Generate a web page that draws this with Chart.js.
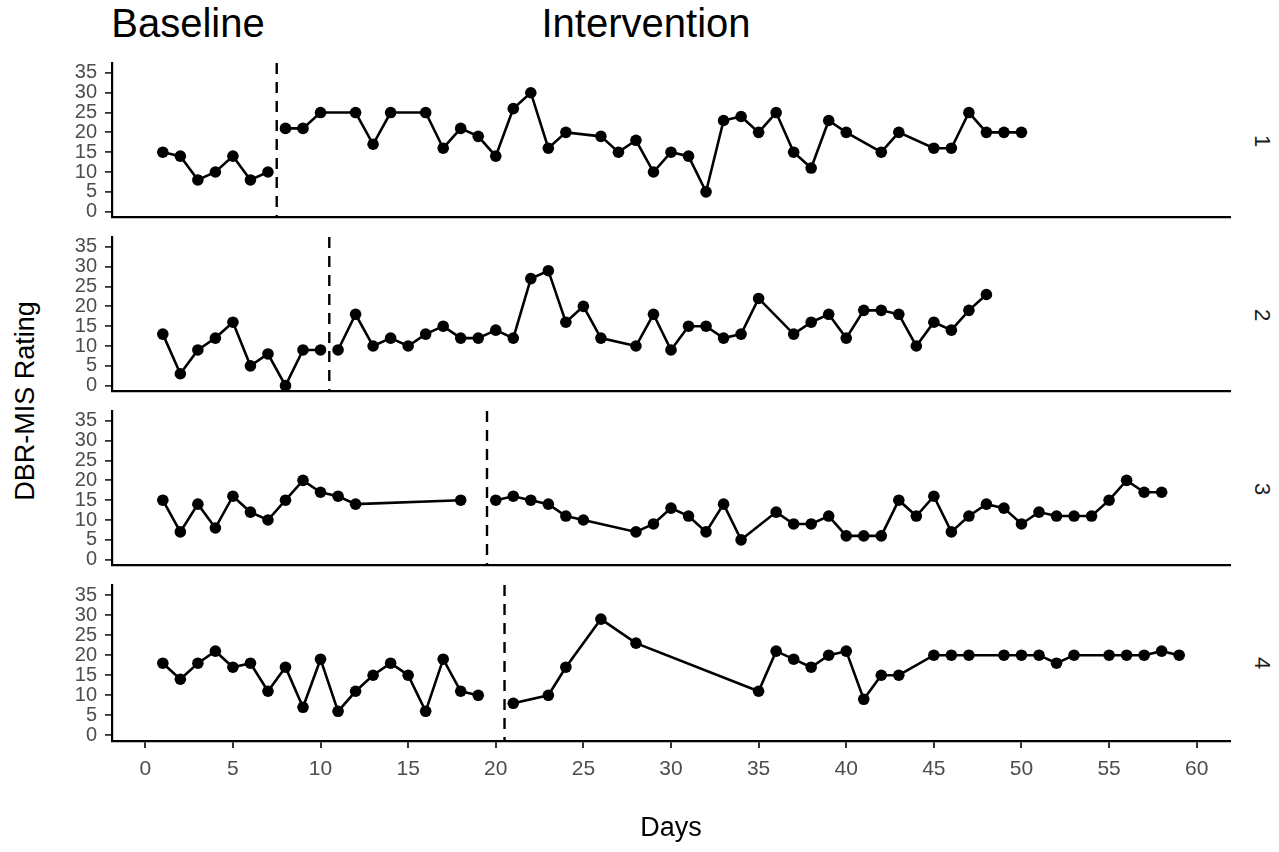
<!DOCTYPE html>
<html><head><meta charset="utf-8">
<script src="https://cdn.jsdelivr.net/npm/chart.js@4.4.1/dist/chart.umd.min.js"></script>
<style>
html,body{margin:0;padding:0;background:#fff;width:1279px;height:852px;overflow:hidden;font-family:"Liberation Sans",Arial,sans-serif;}
canvas{position:absolute;left:0;}
.t{position:absolute;white-space:nowrap;transform:translate(-50%,-50%);color:#000;line-height:1;}
</style></head><body>
<div class="t" style="left:188px;top:23px;font-size:40px">Baseline</div>
<div class="t" style="left:646px;top:23px;font-size:40px">Intervention</div>
<div class="t" style="left:25px;top:401px;font-size:27px;transform:translate(-50%,-50%) rotate(-90deg)">DBR-MIS Rating</div>
<div id="strips"></div>
<script>
// ---------- data ----------
const xTicks = [0,5,10,15,20,25,30,35,40,45,50,55,60];
const yTicks = [0,5,10,15,20,25,30,35];
const stripLabels = ['1','2','3','4'];
const phaseChanges = [7.5, 10.5, 19.5, 20.5];
const xTitle = 'Days';

const p1BaseDays = [1,2,3,4,5,6,7];
const p1Base     = [15,14,8,10,14,8,10];
const p1IntDays  = [8,9,10,12,13,14,16,17,18,19,20,21,22,23,24,26,27,28,29,30,31,32,33,34,35,36,37,38,39,40,42,43,45,46,47,48,49,50];
const p1Int      = [21,21,25,25,17,25,25,16,21,19,14,26,30,16,20,19,15,18,10,15,14,5,23,24,20,25,15,11,23,20,15,20,16,16,25,20,20,20];

const p2BaseDays = [1,2,3,4,5,6,7,8,9,10];
const p2Base     = [13,3,9,12,16,5,8,0,9,9];
const p2IntDays  = [11,12,13,14,15,16,17,18,19,20,21,22,23,24,25,26,28,29,30,31,32,33,34,35,37,38,39,40,41,42,43,44,45,46,47,48];
const p2Int      = [9,18,10,12,10,13,15,12,12,14,12,27,29,16,20,12,10,18,9,15,15,12,13,22,13,16,18,12,19,19,18,10,16,14,19,23];

const p3BaseDays = [1,2,3,4,5,6,7,8,9,10,11,12,18];
const p3Base     = [15,7,14,8,16,12,10,15,20,17,16,14,15];
const p3IntDays  = [20,21,22,23,24,25,28,29,30,31,32,33,34,36,37,38,39,40,41,42,43,44,45,46,47,48,49,50,51,52,53,54,55,56,57,58];
const p3Int      = [15,16,15,14,11,10,7,9,13,11,7,14,5,12,9,9,11,6,6,6,15,11,16,7,11,14,13,9,12,11,11,11,15,20,17,17];

const p4BaseDays = [1,2,3,4,5,6,7,8,9,10,11,12,13,14,15,16,17,18,19];
const p4Base     = [18,14,18,21,17,18,11,17,7,19,6,11,15,18,15,6,19,11,10];
const p4IntDays  = [21,23,24,26,28,35,36,37,38,39,40,41,42,43,45,46,47,49,50,51,52,53,55,56,57,58,59];
const p4Int      = [8,10,17,29,23,11,21,19,17,20,21,9,15,15,20,20,20,20,20,20,18,20,20,20,20,21,20];

// ---------- layout ----------
const X_MIN = -1.9, X_MAX = 61.9, Y_MIN = -1.4, Y_MAX = 37.5;
const panelTops = [63, 237, 411, 585];
const PLOT_H = 156, PAD_TOP = 12, LEFT_W = 112, RIGHT_PAD = 49, W = 1279, H = 852;
const FONT = '"Liberation Sans", Arial, sans-serif';

const panels = [
  [p1BaseDays, p1Base, p1IntDays, p1Int],
  [p2BaseDays, p2Base, p2IntDays, p2Int],
  [p3BaseDays, p3Base, p3IntDays, p3Int],
  [p4BaseDays, p4Base, p4IntDays, p4Int]
];
const zip = (xs, ys) => xs.map((x, i) => ({x: x, y: ys[i]}));
const lineStyle = {borderColor:'#000', borderWidth:2.6, pointRadius:5.8, pointBorderWidth:0,
  pointBackgroundColor:'#000', pointHoverRadius:5.8, fill:false, tension:0};
const noPad = s => { s.paddingTop = 0; s.paddingBottom = 0; s.paddingLeft = 0; s.paddingRight = 0; };

panels.forEach((p, i) => {
  const last = i === panels.length - 1;
  const top = panelTops[i] - PAD_TOP;
  const height = last ? H - top : PAD_TOP + PLOT_H + 4;
  const cv = document.createElement('canvas');
  cv.width = W; cv.height = height;
  cv.style.top = top + 'px';
  document.body.appendChild(cv);

  new Chart(cv, {
    type: 'line',
    data: { datasets: [
      Object.assign({data: zip(p[0], p[1])}, lineStyle),
      Object.assign({data: zip(p[2], p[3])}, lineStyle),
      {data: [{x: phaseChanges[i], y: Y_MAX}, {x: phaseChanges[i], y: Y_MIN}],
       borderColor:'#000', borderWidth:2.4, borderDash:[11,8], pointRadius:0, fill:false}
    ]},
    options: {
      responsive:false, animation:false, devicePixelRatio:1,
      layout:{padding:{top:PAD_TOP, right:RIGHT_PAD, left:0, bottom:0}},
      plugins:{legend:{display:false}, tooltip:{enabled:false}},
      events: [],
      scales: {
        x: {
          type:'linear', min:X_MIN, max:X_MAX,
          afterBuildTicks: s => { s.ticks = xTicks.map(v => ({value:v})); },
          afterFit: s => { s.height = last ? height - PAD_TOP - PLOT_H : 4; noPad(s); },
          ticks:{display:last, autoSkip:false, maxRotation:0, color:'#4D4D4D', padding:9,
                 font:{family:FONT, size:21}},
          grid:{display:last, drawOnChartArea:false, drawTicks:true, tickLength:7, color:'#333', lineWidth:2},
          border:{display:true, color:'#000', width:2.2},
          title:{display:last, text:xTitle, color:'#000', font:{family:FONT, size:27},
                 padding:{top:0, bottom:7}}
        },
        y: {
          type:'linear', min:Y_MIN, max:Y_MAX,
          afterBuildTicks: s => { s.ticks = yTicks.map(v => ({value:v})); },
          afterFit: s => { s.width = LEFT_W; noPad(s); },
          ticks:{autoSkip:false, color:'#4D4D4D', padding:8, font:{family:FONT, size:20}},
          grid:{drawOnChartArea:false, drawTicks:true, tickLength:7, color:'#333', lineWidth:1.8},
          border:{display:true, color:'#000', width:2.2}
        }
      }
    }
  });

  const d = document.createElement('div');
  d.className = 't';
  d.textContent = stripLabels[i];
  d.style.cssText = 'left:1262px;top:' + (panelTops[i] + PLOT_H/2) + 'px;font-size:22px;color:#1A1A1A;transform:translate(-50%,-50%) rotate(90deg)';
  document.getElementById('strips').appendChild(d);
});
</script>
</body></html>
